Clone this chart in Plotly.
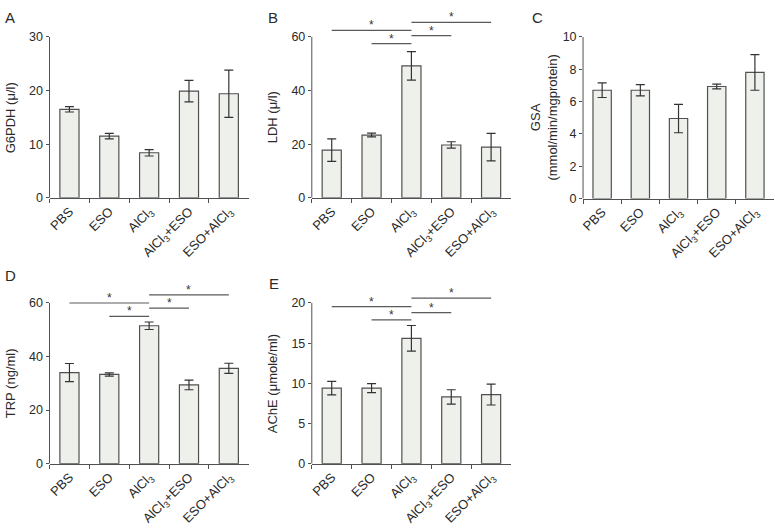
import plotly.graph_objects as go

W, H = 775, 531

categories = ["PBS", "ESO", "AlCl<sub>3</sub>", "AlCl<sub>3</sub>+ESO", "ESO+AlCl<sub>3</sub>"]

g6pdh = [16.5, 11.5, 8.4, 19.9, 19.4]
g6pdh_err = [0.5, 0.5, 0.6, 2.0, 4.4]

ldh = [17.8, 23.4, 49.2, 19.7, 18.9]
ldh_err = [4.2, 0.7, 5.3, 1.2, 5.1]

gsa = [6.7, 6.7, 4.95, 6.93, 7.8]
gsa_err = [0.45, 0.35, 0.88, 0.15, 1.1]

trp = [34.0, 33.3, 51.5, 29.4, 35.6]
trp_err = [3.4, 0.6, 1.4, 1.8, 1.9]

ache = [9.4, 9.4, 15.6, 8.3, 8.6]
ache_err = [0.85, 0.55, 1.6, 0.9, 1.3]

# significance brackets: (from category index, to category index, y level)
sig_ldh = [(0, 2, 62.4), (2, 4, 65.4), (1, 2, 57.5), (2, 3, 60.5)]
sig_trp = [(0, 2, 60.0), (2, 4, 63.0), (1, 2, 55.0), (2, 3, 58.1)]
sig_ache = [(0, 2, 19.55), (2, 4, 20.6), (1, 2, 17.9), (2, 3, 18.8)]

FONT = "Liberation Sans, Arial, sans-serif"
BAR_FILL = "#eef0ec"
BAR_LINE = "#505050"
TXT = "#2a2a2a"


def px_x(p):
    return p / W


def px_y(p):
    return 1 - p / H


panels = [
    dict(letter="A", title="G6PDH (\u03bc/l)", vals=g6pdh, errs=g6pdh_err, ytop=30, dtick=10, rtop=30,
         xd=(46.7, 246.7), yd=(30.7, 196), sig=[], tx=7, lpos=(0, 0)),
    dict(letter="B", title="LDH (\u03bc/l)", vals=ldh, errs=ldh_err, ytop=60, dtick=20, rtop=68,
         xd=(310, 510), yd=(8.66, 196), sig=sig_ldh, tx=270, lpos=(264, 0)),
    dict(letter="C", title="GSA<br>(mmol/min/mgprotein)", vals=gsa, errs=gsa_err, ytop=10, dtick=2, rtop=10,
         xd=(582.3, 774), yd=(30.7, 196.7), sig=[], tx=543, lpos=(529, 0)),
    dict(letter="D", title="TRP (ng/ml)", vals=trp, errs=trp_err, ytop=60, dtick=20, rtop=66,
         xd=(46.7, 246.7), yd=(287.5, 469), sig=sig_trp, tx=7, lpos=(0, 265)),
    dict(letter="E", title="AChE (\u03bcmole/ml)", vals=ache, errs=ache_err, ytop=20, dtick=5, rtop=22,
         xd=(310, 510), yd=(287.5, 469), sig=sig_ache, tx=270, lpos=(265, 273)),
]

fig = go.Figure()
shapes = []
annotations = []

for i, p in enumerate(panels):
    n = "" if i == 0 else str(i + 1)
    xa, ya = "x" + n, "y" + n
    fig.add_trace(go.Bar(
        x=categories, y=p["vals"], xaxis=xa, yaxis=ya, width=0.48,
        marker=dict(color=BAR_FILL, line=dict(color=BAR_LINE, width=1.2)),
        error_y=dict(type="data", array=p["errs"], visible=True, color="#333333", thickness=1.2, width=4.5),
        showlegend=False, hoverinfo="skip",
    ))
    xkey = "xaxis" + n
    ykey = "yaxis" + n
    fig.update_layout(**{
        xkey: dict(domain=[px_x(p["xd"][0]), px_x(p["xd"][1])], anchor=ya, type="category",
                   showline=True, linecolor=BAR_LINE, linewidth=1, ticks="outside", tickson="boundaries",
                   ticklen=4, tickcolor=BAR_LINE, tickangle=-45, showgrid=False,
                   tickfont=dict(family=FONT, size=13, color=TXT), range=[-0.5, 4.5]),
        ykey: dict(domain=[px_y(p["yd"][1]), px_y(p["yd"][0])], anchor=xa, range=[0, p["rtop"]],
                   tickvals=list(range(0, p["ytop"] + 1, p["dtick"])), showline=False, showgrid=False,
                   zeroline=False, ticks="outside", ticklen=3, tickcolor=BAR_LINE,
                   tickfont=dict(family=FONT, size=12.5, color=TXT)),
    })
    # y axis line up to the top tick
    shapes.append(dict(type="line", xref=xa + " domain", yref=ya, x0=0, x1=0, y0=0, y1=p["ytop"],
                       line=dict(color=BAR_LINE, width=1)))
    # significance lines
    for (a, b, yv) in p["sig"]:
        shapes.append(dict(type="line", xref=xa, yref=ya, x0=a, x1=b, y0=yv, y1=yv,
                           line=dict(color="#5a5a5a", width=1.2)))
        annotations.append(dict(xref=xa, yref=ya, x=(a + b) / 2, y=yv, text="*", showarrow=False,
                                yanchor="bottom", yshift=-4, font=dict(family=FONT, size=12, color="#333333")))
    # y title, centred on the labelled part of the axis
    annotations.append(dict(xref="paper", yref=ya, x=px_x(p["tx"]), y=p["ytop"] / 2,
                            text=p["title"], textangle=-90, showarrow=False, xanchor="center",
                            yanchor="middle", font=dict(family=FONT, size=13, color=TXT)))
    # panel letter
    annotations.append(dict(xref="paper", yref="paper", x=px_x(p["lpos"][0]), y=px_y(p["lpos"][1]),
                            text=p["letter"], showarrow=False, xanchor="left", yanchor="top",
                            font=dict(family=FONT, size=15, color=TXT)))

fig.update_layout(
    width=W, height=H, margin=dict(l=0, r=0, t=0, b=0),
    paper_bgcolor="white", plot_bgcolor="white",
    shapes=shapes, annotations=annotations, bargap=0.5,
    font=dict(family=FONT, color=TXT),
)

fig.write_html("out.html", config={"displayModeBar": False},
               post_script="document.body.style.margin='0';")
